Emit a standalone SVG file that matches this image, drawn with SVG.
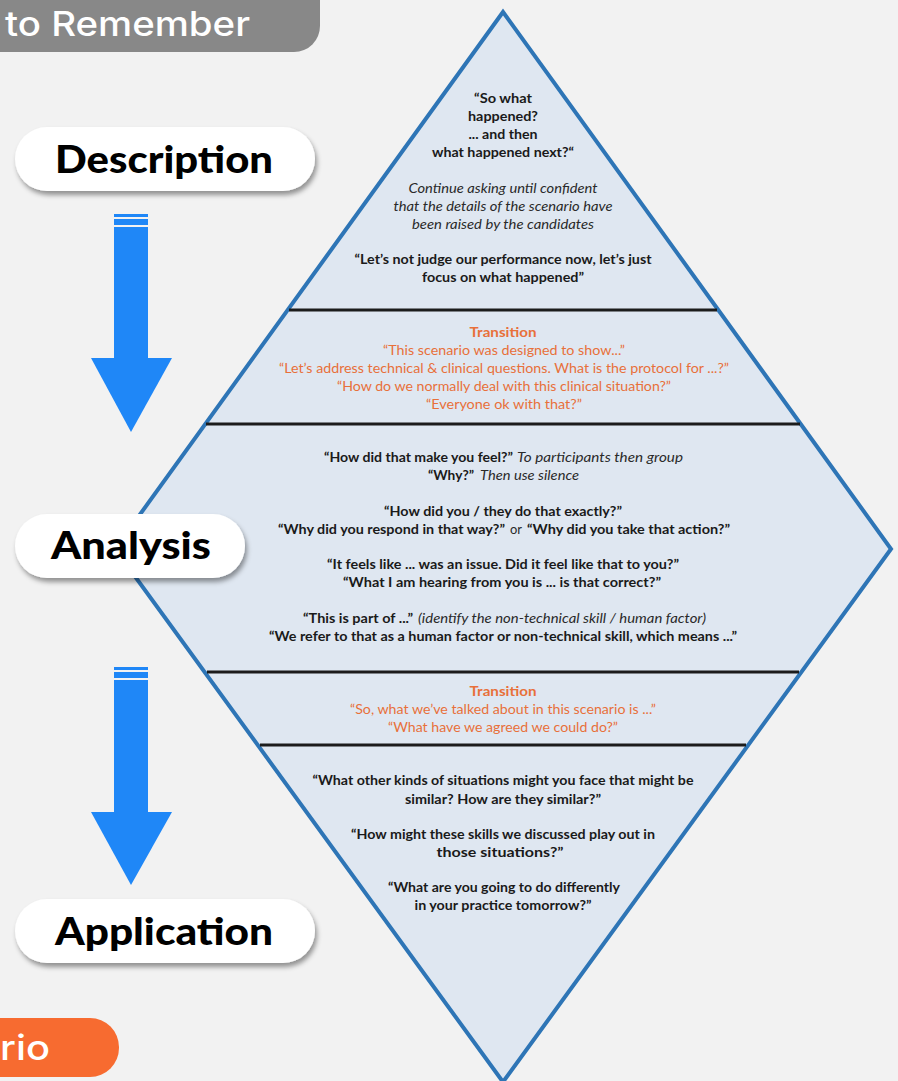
<svg xmlns="http://www.w3.org/2000/svg" width="898" height="1081" viewBox="0 0 898 1081">
<defs>
<style>
.b{font-family:Lato,"Liberation Sans",sans-serif;font-weight:700;font-size:13px;fill:#1a1a1a;}
.i{font-family:Lato,"Liberation Sans",sans-serif;font-style:italic;font-size:13px;fill:#2a2a2a;}
.r{font-family:Lato,"Liberation Sans",sans-serif;font-size:13px;fill:#2a2a2a;}
.o{font-family:Lato,"Liberation Sans",sans-serif;font-size:13px;fill:#E8703A;}
.ob{font-family:Lato,"Liberation Sans",sans-serif;font-weight:700;font-size:13px;fill:#E8703A;}
.pill{fill:#ffffff;filter:url(#sh);}
.pt{font-family:Lato,"Liberation Sans",sans-serif;font-weight:900;font-size:38px;fill:#000;}
.sep{stroke:#1c1c1c;stroke-width:3;}
.arr{fill:#1F87F7;}
</style>
<filter id="sh" x="-10%" y="-20%" width="130%" height="160%">
<feDropShadow dx="2" dy="4" stdDeviation="2.5" flood-color="#000" flood-opacity="0.4"/>
</filter>
</defs>
<rect x="0" y="0" width="898" height="1081" fill="#F2F2F2"/>

<g id="header">
<rect x="-40" y="-30" width="360" height="82" rx="26" fill="#888888"/>
<text x="5" y="36" font-family="Inter,Lato,'Liberation Sans',sans-serif" font-weight="500" font-size="34" fill="#ffffff" textLength="245" lengthAdjust="spacingAndGlyphs">to Remember</text>
</g>

<g id="scenario">
<rect x="-40" y="1018" width="159" height="59" rx="29" fill="#F76B30"/>
<text x="0" y="1060" font-family="Inter,Lato,'Liberation Sans',sans-serif" font-weight="500" font-size="35" fill="#ffffff" textLength="50" lengthAdjust="spacingAndGlyphs">rio</text>
</g>

<g id="diamond">
<polygon points="503,12 891,549 503,1082 115,549" fill="#DFE7F1" stroke="#2E75B6" stroke-width="4" stroke-linejoin="miter"/>
<line class="sep" x1="289" y1="310" x2="717" y2="310"/>
<line class="sep" x1="206" y1="424" x2="800" y2="424"/>
<line class="sep" x1="207" y1="672" x2="799" y2="672"/>
<line class="sep" x1="260" y1="745" x2="746" y2="745"/>
</g>

<g id="description-text" text-anchor="middle">
<text class="b" x="503" y="103" textLength="58" lengthAdjust="spacingAndGlyphs">“So what</text>
<text class="b" x="503" y="121" textLength="70" lengthAdjust="spacingAndGlyphs">happened?</text>
<text class="b" x="503" y="139" textLength="69" lengthAdjust="spacingAndGlyphs">... and then</text>
<text class="b" x="503" y="157" textLength="142" lengthAdjust="spacingAndGlyphs">what happened next?“</text>
<text class="i" x="503" y="193" textLength="189" lengthAdjust="spacingAndGlyphs">Continue asking until confident</text>
<text class="i" x="503" y="211" textLength="219" lengthAdjust="spacingAndGlyphs">that the details of the scenario have</text>
<text class="i" x="503" y="229" textLength="182" lengthAdjust="spacingAndGlyphs">been raised by the candidates</text>
<text class="b" x="503" y="264" textLength="297" lengthAdjust="spacingAndGlyphs">“Let’s not judge our performance now, let’s just</text>
<text class="b" x="503" y="282" textLength="162" lengthAdjust="spacingAndGlyphs">focus on what happened”</text>
</g>

<g id="transition-1" text-anchor="middle">
<text class="ob" x="503" y="337" textLength="67" lengthAdjust="spacingAndGlyphs">Transition</text>
<text class="o" x="504" y="355" textLength="242" lengthAdjust="spacingAndGlyphs">“This scenario was designed to show...”</text>
<text class="o" x="504" y="373" textLength="450" lengthAdjust="spacingAndGlyphs">“Let’s address technical &amp; clinical questions. What is the protocol for ...?”</text>
<text class="o" x="504" y="391" textLength="334" lengthAdjust="spacingAndGlyphs">“How do we normally deal with this clinical situation?”</text>
<text class="o" x="504" y="409" textLength="156" lengthAdjust="spacingAndGlyphs">“Everyone ok with that?”</text>
</g>

<g id="analysis-text">
<text class="b" x="324" y="462" textLength="189" lengthAdjust="spacingAndGlyphs">“How did that make you feel?”</text>
<text class="i" x="517" y="462" textLength="166" lengthAdjust="spacingAndGlyphs">To participants then group</text>
<text class="b" x="428" y="480" textLength="46" lengthAdjust="spacingAndGlyphs">“Why?”</text>
<text class="i" x="480" y="480" textLength="99" lengthAdjust="spacingAndGlyphs">Then use silence</text>
<text class="b" x="503" y="516" text-anchor="middle" textLength="238" lengthAdjust="spacingAndGlyphs">“How did you / they do that exactly?”</text>
<text class="b" x="278" y="534" textLength="227" lengthAdjust="spacingAndGlyphs">“Why did you respond in that way?”</text>
<text class="r" x="510" y="534" textLength="12" lengthAdjust="spacingAndGlyphs">or</text>
<text class="b" x="527" y="534" textLength="203" lengthAdjust="spacingAndGlyphs">“Why did you take that action?”</text>
<text class="b" x="503" y="569" text-anchor="middle" textLength="352" lengthAdjust="spacingAndGlyphs">“It feels like ... was an issue. Did it feel like that to you?”</text>
<text class="b" x="502" y="587" text-anchor="middle" textLength="318" lengthAdjust="spacingAndGlyphs">“What I am hearing from you is ... is that correct?”</text>
<text class="b" x="303" y="623" textLength="110" lengthAdjust="spacingAndGlyphs">“This is part of ...”</text>
<text class="i" x="418" y="623" textLength="288" lengthAdjust="spacingAndGlyphs">(identify the non-technical skill / human factor)</text>
<text class="b" x="503" y="641" text-anchor="middle" textLength="468" lengthAdjust="spacingAndGlyphs">“We refer to that as a human factor or non-technical skill, which means ...”</text>
</g>

<g id="transition-2" text-anchor="middle">
<text class="ob" x="503" y="696" textLength="67" lengthAdjust="spacingAndGlyphs">Transition</text>
<text class="o" x="503" y="714" textLength="306" lengthAdjust="spacingAndGlyphs">“So, what we’ve talked about in this scenario is ...”</text>
<text class="o" x="503" y="732" textLength="230" lengthAdjust="spacingAndGlyphs">“What have we agreed we could do?”</text>
</g>

<g id="application-text" text-anchor="middle">
<text class="b" x="503" y="785" textLength="381" lengthAdjust="spacingAndGlyphs">“What other kinds of situations might you face that might be</text>
<text class="b" x="503" y="804" textLength="196" lengthAdjust="spacingAndGlyphs">similar? How are they similar?”</text>
<text class="b" x="503" y="839" textLength="304" lengthAdjust="spacingAndGlyphs">“How might these skills we discussed play out in</text>
<text class="b" x="500" y="857" textLength="127" lengthAdjust="spacingAndGlyphs">those situations?”</text>
<text class="b" x="504" y="892" textLength="232" lengthAdjust="spacingAndGlyphs">“What are you going to do differently</text>
<text class="b" x="503" y="910" textLength="177" lengthAdjust="spacingAndGlyphs">in your practice tomorrow?”</text>
</g>

<g id="connectors">
<g id="arrow-1">
<rect class="arr" x="114" y="214" width="34" height="3"/>
<rect class="arr" x="114" y="219" width="34" height="6"/>
<rect class="arr" x="114" y="227" width="34" height="132"/>
<polygon class="arr" points="91,358 172,358 131,432"/>
</g>
<g id="arrow-2">
<rect class="arr" x="114" y="667" width="34" height="3"/>
<rect class="arr" x="114" y="672" width="34" height="6"/>
<rect class="arr" x="114" y="680" width="34" height="133"/>
<polygon class="arr" points="91,812 172,812 131,885"/>
</g>
</g>

<g id="pill-description">
<rect class="pill" x="15" y="127" width="300" height="64" rx="32"/>
<text class="pt" x="55" y="173" textLength="218" lengthAdjust="spacingAndGlyphs">Description</text>
</g>
<g id="pill-analysis">
<rect class="pill" x="15" y="514" width="230" height="64" rx="32"/>
<text class="pt" x="51" y="559" textLength="160" lengthAdjust="spacingAndGlyphs">Analysis</text>
</g>
<g id="pill-application">
<rect class="pill" x="15" y="899" width="300" height="64" rx="32"/>
<text class="pt" x="55" y="945" textLength="218" lengthAdjust="spacingAndGlyphs">Application</text>
</g>
</svg>
